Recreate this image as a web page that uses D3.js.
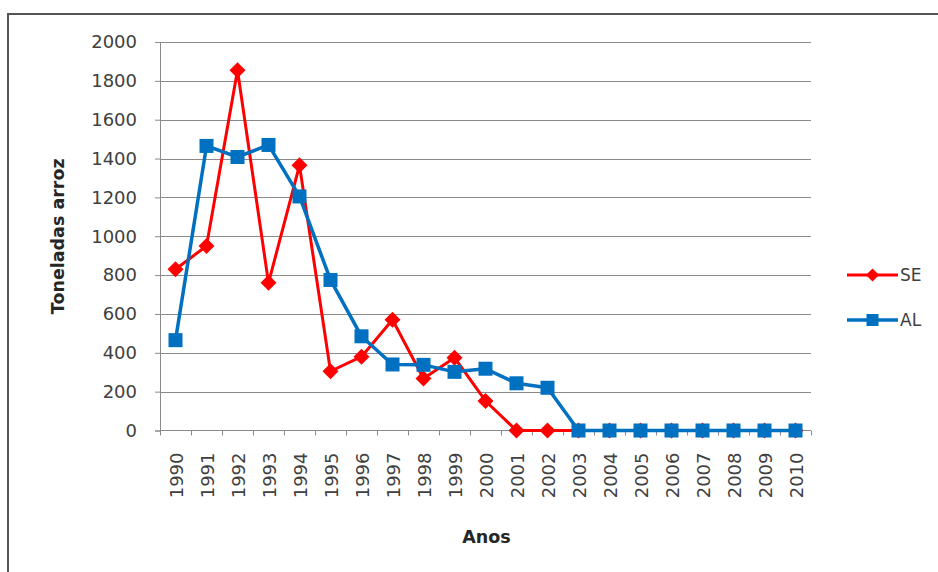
<!DOCTYPE html>
<html>
<head>
<meta charset="utf-8">
<script src="https://cdn.jsdelivr.net/npm/d3@7"></script>
<style>
  html, body { margin: 0; padding: 0; background: #fff; }
  svg { display: block; }
</style>
</head>
<body>
<svg id="chart" width="938" height="572"></svg>
<script>
// Rice production (tonnes) per year for two states
const years = ["1990","1991","1992","1993","1994","1995","1996","1997","1998","1999","2000",
               "2001","2002","2003","2004","2005","2006","2007","2008","2009","2010"];
const seValues = [830, 950, 1855, 760, 1365, 305, 380, 570, 268, 375, 152,
                  0, 0, 0, 0, 0, 0, 0, 0, 0, 0];
const alValues = [465, 1465, 1408, 1470, 1205, 775, 485, 340, 338, 302, 318,
                  243, 220, 0, 0, 0, 0, 0, 0, 0, 0];
const yTicks = [0, 200, 400, 600, 800, 1000, 1200, 1400, 1600, 1800, 2000];
const seriesNames = ["SE", "AL"];

const svg = d3.select("#chart");
const W = 938, H = 572;
const plot = { left: 160, right: 811, top: 42, bottom: 430.5 };
const fontFam = "'DejaVu Sans', sans-serif";
const gridColor = "#8a8a8a";
const textColor = "#404040";
const colors = { SE: "#ff0000", AL: "#0070c0" };

// outer frame of the chart area
svg.append("rect")
  .attr("x", 8).attr("y", 14)
  .attr("width", W + 20).attr("height", H + 20)
  .attr("fill", "#fff")
  .attr("stroke", "#555").attr("stroke-width", 2);

const x = d3.scaleBand().domain(years).range([plot.left, plot.right]).padding(0);
const y = d3.scaleLinear().domain([0, 2000]).range([plot.bottom, plot.top]);

// horizontal gridlines
svg.append("g").selectAll("line")
  .data(yTicks.filter(d => d > 0))
  .join("line")
  .attr("x1", plot.left).attr("x2", plot.right)
  .attr("y1", d => Math.round(y(d)) + 0.5).attr("y2", d => Math.round(y(d)) + 0.5)
  .attr("stroke", gridColor).attr("stroke-width", 1);

// y axis
const yAxis = svg.append("g")
  .attr("transform", `translate(${plot.left},0)`)
  .call(d3.axisLeft(y).tickValues(yTicks).tickSize(5).tickPadding(18).tickFormat(d3.format("d")));
yAxis.select(".domain").attr("stroke", gridColor);
yAxis.selectAll(".tick line").attr("stroke", gridColor);
yAxis.selectAll(".tick text")
  .attr("fill", textColor).style("font-family", fontFam).style("font-size", "18px");

// x axis baseline and boundary ticks
const xg = svg.append("g");
xg.append("line")
  .attr("x1", plot.left).attr("x2", plot.right)
  .attr("y1", plot.bottom).attr("y2", plot.bottom)
  .attr("stroke", gridColor).attr("stroke-width", 1);
const edges = years.map(d => x(d)).concat([x(years[years.length - 1]) + x.bandwidth()]);
xg.selectAll("line.edge")
  .data(edges)
  .join("line")
  .attr("class", "edge")
  .attr("x1", d => Math.round(d) + 0.5).attr("x2", d => Math.round(d) + 0.5)
  .attr("y1", plot.bottom).attr("y2", plot.bottom + 5)
  .attr("stroke", gridColor).attr("stroke-width", 1);

// rotated year labels
xg.selectAll("text.year")
  .data(years)
  .join("text")
  .attr("class", "year")
  .attr("transform", d => `translate(${x(d) + x.bandwidth() / 2 + 1},${plot.bottom + 22}) rotate(-90)`)
  .attr("text-anchor", "end")
  .attr("dy", "0.36em")
  .attr("fill", textColor)
  .style("font-family", fontFam).style("font-size", "18px")
  .text(d => d);

// axis titles
svg.append("text")
  .attr("transform", `translate(64,${(plot.top + plot.bottom) / 2}) rotate(-90)`)
  .attr("text-anchor", "middle")
  .attr("fill", "#262626")
  .style("font-family", fontFam).style("font-size", "17.5px").style("font-weight", "bold")
  .text("Toneladas arroz");
svg.append("text")
  .attr("x", (plot.left + plot.right) / 2 + 1).attr("y", 543)
  .attr("text-anchor", "middle")
  .attr("fill", "#262626")
  .style("font-family", fontFam).style("font-size", "17.5px").style("font-weight", "bold")
  .text("Anos");

const cx = d => x(d) + x.bandwidth() / 2;
const line = d3.line().x(d => cx(d.year)).y(d => y(d.value));

const seData = years.map((yr, i) => ({ year: yr, value: seValues[i] }));
const alData = years.map((yr, i) => ({ year: yr, value: alValues[i] }));

const diamond = (g, px, py, r, color) =>
  g.append("path")
    .attr("d", `M${px},${py - r}L${px + r},${py}L${px},${py + r}L${px - r},${py}Z`)
    .attr("fill", color);
const square = (g, px, py, s, color) =>
  g.append("rect")
    .attr("x", px - s / 2).attr("y", py - s / 2)
    .attr("width", s).attr("height", s)
    .attr("fill", color);

// SE series
const seG = svg.append("g");
seG.append("path").datum(seData)
  .attr("d", line).attr("fill", "none")
  .attr("stroke", colors.SE).attr("stroke-width", 3).attr("stroke-linejoin", "round");
seData.forEach(d => diamond(seG, cx(d.year), y(d.value), 8, colors.SE));

// AL series
const alG = svg.append("g");
alG.append("path").datum(alData)
  .attr("d", line).attr("fill", "none")
  .attr("stroke", colors.AL).attr("stroke-width", 3.5).attr("stroke-linejoin", "round");
alData.forEach(d => square(alG, cx(d.year), y(d.value), 14, colors.AL));

// legend
const legend = svg.append("g");
seriesNames.forEach((name, i) => {
  const ly = 275 + i * 45;
  legend.append("line")
    .attr("x1", 847).attr("x2", 898).attr("y1", ly).attr("y2", ly)
    .attr("stroke", colors[name]).attr("stroke-width", name === "AL" ? 3.5 : 3);
  if (name === "SE") diamond(legend, 872.5, ly, 6.5, colors[name]);
  else square(legend, 872.5, ly, 12, colors[name]);
  legend.append("text")
    .attr("x", 900).attr("y", ly).attr("dy", "0.36em")
    .attr("fill", textColor)
    .style("font-family", fontFam).style("font-size", "17px")
    .text(name);
});
</script>
</body>
</html>
